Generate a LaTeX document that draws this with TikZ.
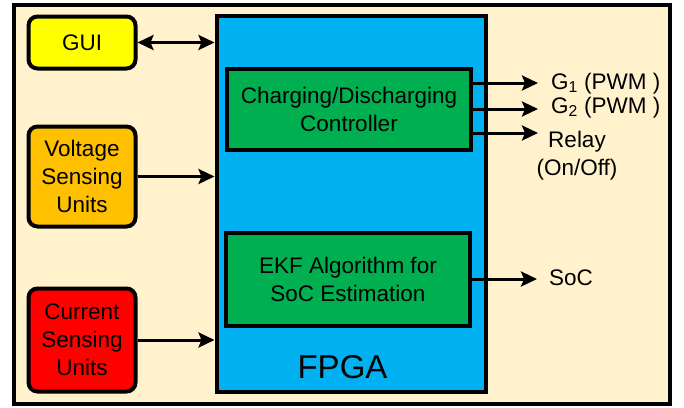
\documentclass[tikz,border=0pt]{standalone}
\usepackage{fontspec}
\setmainfont{Liberation Sans}
\usetikzlibrary{arrows.meta, positioning, shadows}
\usepackage{xcolor}
\newcommand{\TxtCtrl}{Charging/Discharging\\Controller}
\newcommand{\TxtEkf}{EKF Algorithm for\\SoC Estimation}
\newcommand{\TxtGone}{G\textsubscript{1} (PWM )}
\newcommand{\TxtGtwo}{G\textsubscript{2} (PWM )}
\newcommand{\TxtRelay}{Relay\\(On/Off)}
\definecolor{mybeige}{RGB}{255,242,204}
\definecolor{myyellow}{RGB}{255,255,0}
\definecolor{myorange}{RGB}{255,192,0}
\definecolor{myred}{RGB}{255,0,0}
\definecolor{myblue}{RGB}{0,176,240}
\definecolor{mygreen}{RGB}{0,176,80}

\begin{document}
\begin{tikzpicture}[x=1pt,y=-1pt,
  font=\fontsize{22.5}{28}\selectfont,
  >={Stealth[length=16pt,width=15pt,inset=3pt]},
  box/.style={draw, line width=4pt, inner sep=0pt, align=center},
  side/.style={box, rounded corners=9pt, minimum width=107pt,
    drop shadow={opacity=0.2, shadow xshift=1.5pt, shadow yshift=-1.5pt}},
  sig/.style={->, line width=3pt},
  lbl/.style={inner sep=0pt}]
  \useasboundingbox (0,0) rectangle (684,407);
  \node[box, fill=mybeige, minimum width=656.5pt, minimum height=399pt] (board) at (341.75,204) {};

  \node[box, fill=myblue, minimum width=269pt, minimum height=376pt] (fpga) at (351,204) {};
  \node[lbl, font=\fontsize{33}{36}\selectfont, anchor=base] (fpgatxt) at (342.5,378) {FPGA};
  \node[box, fill=mygreen, minimum width=244pt, minimum height=81pt] (ctrl) at (349,109) {\TxtCtrl};
  \node[box, fill=mygreen, minimum width=244pt, minimum height=93pt] (ekf) at (348,279) {\TxtEkf};

  \node[side, fill=myyellow, minimum height=52pt] (gui) at (82,42.5) {GUI};
  \node[side, fill=myorange, minimum height=100pt] (volt) at (82,176.5) {Voltage\\Sensing\\Units};
  \node[side, fill=myred, minimum height=103pt] (curr) at (82,340) {Current\\Sensing\\Units};

  % inputs
  \draw[sig, <->] (gui.east) -- (gui.east -| fpga.west);
  \draw[sig] (volt.east) -- (volt.east -| fpga.west);
  \draw[sig] (curr.east) -- (curr.east -| fpga.west);

  % outputs
  \coordinate (g1) at (538,83);
  \coordinate (g2) at (538,109);
  \coordinate (rl) at (538,133);
  \coordinate (soc) at (537,279);
  \draw[sig] (ctrl.east |- g1) -- (g1);
  \draw[sig] (ctrl.east |- g2) -- (g2);
  \draw[sig] (ctrl.east |- rl) -- (rl);
  \draw[sig] (ekf.east |- soc) -- (soc);

  \node[lbl, anchor=base west] (g1txt) at (551,89) {\TxtGone};
  \node[lbl, anchor=base west] (g2txt) at (551,113) {\TxtGtwo};
  \node[lbl, align=center, anchor=north] (rltxt) at (577,131) {\TxtRelay};
  \node[lbl, anchor=base west] (soctxt) at (549,285) {SoC};
\end{tikzpicture}
\end{document}
